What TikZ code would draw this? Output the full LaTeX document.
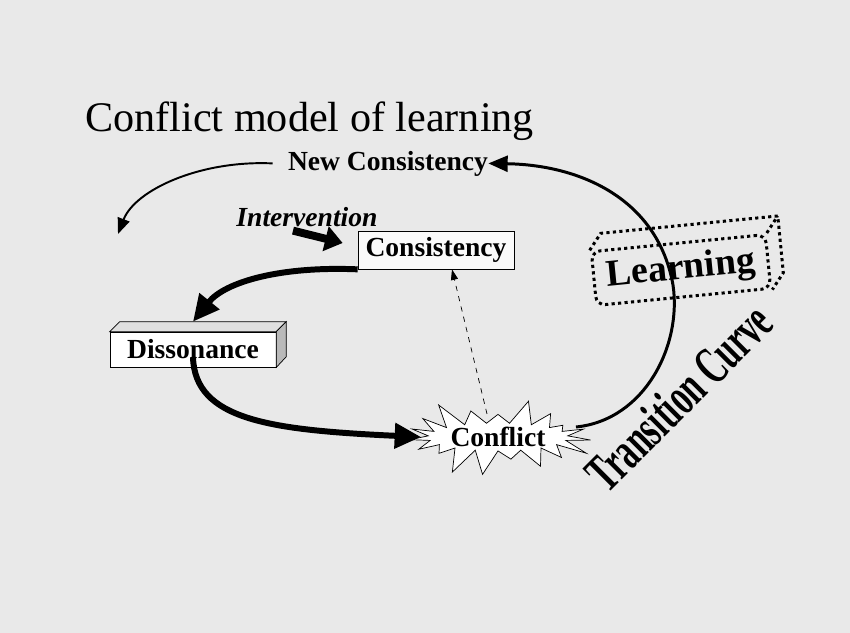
\documentclass[tikz,border=0pt]{standalone}
\usepackage{fontspec}
\setmainfont{Liberation Serif}
\usetikzlibrary{arrows.meta,shapes.symbols}

\begin{document}
\begin{tikzpicture}[x=0.02cm, y=-0.02cm,
    lblfont/.style={font=\fontsize{15.7}{18}\selectfont\bfseries},
    lbl/.style={lblfont, inner sep=0pt},
    bigarrow/.style={line width=3.4pt, -{Triangle[length=15pt,width=14pt]}},
    ldots/.style={line width=1.7pt, dash pattern=on 1.8pt off 1.9pt},
  ]
  \fill[gray!17] (0,0) rectangle (850,633);
  \useasboundingbox (0,0) rectangle (850,633);

  % title and plain labels
  \node[anchor=base west, inner sep=0pt, font=\fontsize{24}{28}\selectfont] (title) at (85,131) {Conflict model of learning};
  \node[lbl, anchor=base] (newc) at (388,170) {New Consistency};
  \node[inner sep=0pt, anchor=base, font=\fontsize{15.7}{18}\selectfont\bfseries\itshape] (interv) at (307,226) {Intervention};
  \coordinate (drop) at (118,234);

  % boxes
  \node[lbl, draw, thin, fill=gray!4, minimum width=3.12cm, minimum height=0.76cm] (cons) at (436,250) {Consistency};

  \node[lbl, draw, fill=white, minimum width=3.32cm, minimum height=0.7cm] (diss) at (193,349.5) {Dissonance};
  \filldraw[fill=gray!25] (diss.north west) -- ++(10,-10) -- ([shift={(10,-10)}]diss.north east) -- (diss.north east) -- cycle;
  \filldraw[fill=gray!55] (diss.north east) -- ++(10,-10) -- ++(0,35) -- (diss.south east) -- cycle;

  \node[lbl, starburst, draw, fill=white, starburst points=19, starburst point height=0.55cm,
        random starburst=3, minimum width=3.9cm, minimum height=1.55cm] (conf) at (498,437) {Conflict};

  \node[ldots, draw, rounded corners=5pt, rotate=5.6, minimum width=3.5cm, minimum height=1.08cm,
        font=\fontsize{21.5}{24}\selectfont\bfseries] (learn) at (681,270) {Learning};
  \draw[ldots] (learn.north west) -- ++(11,-17) -- ([shift={(11,-17)}]learn.north east)
        -- ([shift={(11,-17)}]learn.south east) -- (learn.south east);
  \draw[ldots] (learn.north east) -- ++(11,-17);

  \node[rotate=45, inner sep=0pt, font=\fontsize{20.5}{24}\selectfont\bfseries] (trans) at (679,397) {\scalebox{0.9}[1.5]{Transition Curve}};

  % connectors
  \draw[line width=1.1pt, -{Triangle[length=9pt,width=7pt]}] ([xshift=-0.3cm]newc.west) .. controls (200,160) and (135,190) .. (drop);
  \draw[line width=1.7pt, -{Triangle[length=11pt,width=9pt]}] ([yshift=0.2cm]conf.east) .. controls (645,420) and (682,345) .. (673,285)
        .. controls (658,200) and (582,165) .. (newc.east);
  \draw[bigarrow] (cons.south west) .. controls (280,266) and (225,282) .. ([yshift=0.2cm]diss.north);
  \draw[bigarrow] ([yshift=0.2cm]diss.south) .. controls (195,420) and (270,430) .. (conf.west);
  \draw[dashed, thin, -{Triangle[length=6pt,width=4pt]}] ([xshift=-0.22cm]conf.north) -- ([xshift=0.32cm]cons.south);
  \draw[line width=4.5pt, -{Triangle[length=10pt,width=14pt]}] ([xshift=-0.28cm,yshift=-0.08cm]interv.south) -- ([xshift=-0.3cm,yshift=0.14cm]cons.west);
\end{tikzpicture}
\end{document}
